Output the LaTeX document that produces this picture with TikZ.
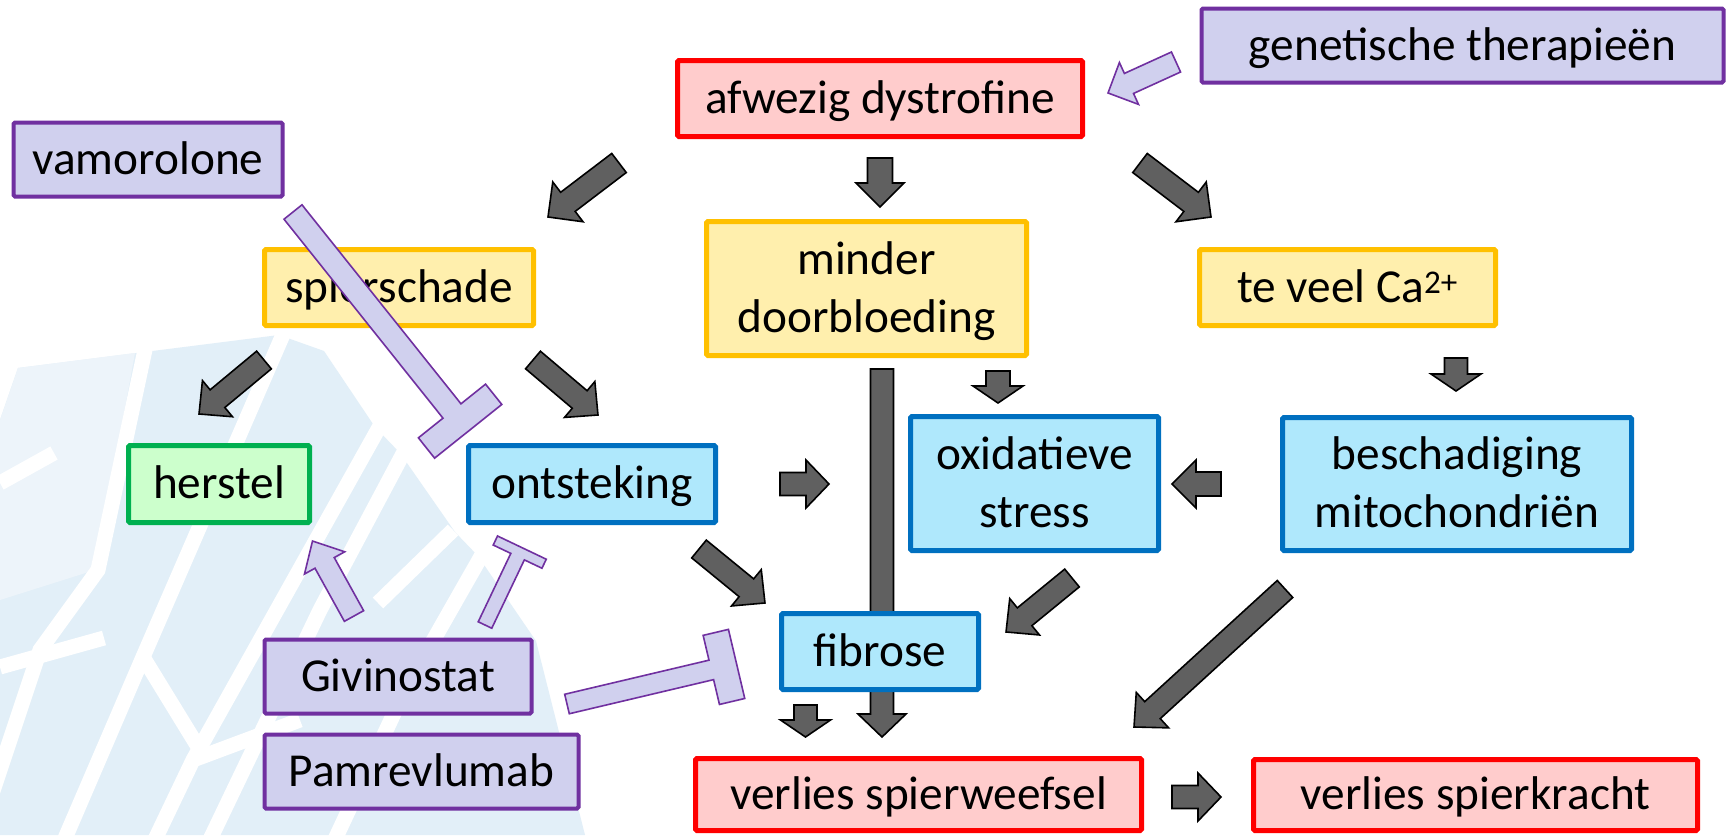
\documentclass[tikz,border=0pt]{standalone}
\usepackage{fontspec}
\setmainfont{Carlito}
\usetikzlibrary{calc}

\definecolor{redline}{HTML}{FF0000}
\definecolor{redfill}{HTML}{FFCCCC}
\definecolor{yelline}{HTML}{FFC000}
\definecolor{yelfill}{HTML}{FFEFAD}
\definecolor{blueline}{HTML}{0070C0}
\definecolor{bluefill}{HTML}{AFE8FC}
\definecolor{grnline}{HTML}{00B050}
\definecolor{grnfill}{HTML}{CCFFCC}
\definecolor{purline}{HTML}{7030A0}
\definecolor{purfill}{HTML}{D0D0EE}
\definecolor{arrowgray}{HTML}{606060}
\definecolor{bgblue}{HTML}{E2EFF8}
\definecolor{bgpale}{HTML}{EDF4FA}

% one text line with fixed height and depth, so that boxes centre alike
\newcommand\lh{\rule[-11.8pt]{0pt}{53.2pt}}

% box given by its outer corners: name, style, x1, y1, x2, y2, text
\newcommand\bx[7]{\node[#2, minimum width={#5-#3-5}, minimum height={#6-#4-5}]
  (#1) at ({(#3+#5)/2},{(#4+#6)/2}) {#7};}

% block arrow: style, tail, tip, shaft width, head width, head length
\newcommand\blk[6]{%
  \path let \p1=($(#3)-(#2)$) in \pgfextra{%
    \pgfmathsetmacro\tmpL{veclen(\x1,\y1)}%
    \pgfmathsetmacro\tmpA{atan2(\y1,\x1)}%
    \xdef\arL{\tmpL}\xdef\arA{\tmpA}};
  \pgfmathsetmacro\arS{#4/2}\pgfmathsetmacro\arH{#5/2}\pgfmathsetmacro\arB{\arL-#6}%
  \draw[#1,shift={(#2)},rotate=\arA] (0pt,-\arS pt) -- (\arB pt,-\arS pt)
    -- (\arB pt,-\arH pt) -- (\arL pt,0pt) -- (\arB pt,\arH pt)
    -- (\arB pt,\arS pt) -- (0pt,\arS pt) -- cycle;}

% inhibition bar: style, tail, shaft end, shaft width, bar length, bar thickness
\newcommand\tbar[6]{%
  \path let \p1=($(#3)-(#2)$) in \pgfextra{%
    \pgfmathsetmacro\tmpL{veclen(\x1,\y1)}%
    \pgfmathsetmacro\tmpA{atan2(\y1,\x1)}%
    \xdef\arL{\tmpL}\xdef\arA{\tmpA}};
  \pgfmathsetmacro\arS{#4/2}\pgfmathsetmacro\arH{#5/2}\pgfmathsetmacro\arB{\arL+#6}%
  \draw[#1,shift={(#2)},rotate=\arA] (0pt,-\arS pt) -- (\arL pt,-\arS pt)
    -- (\arL pt,-\arH pt) -- (\arB pt,-\arH pt) -- (\arB pt,\arH pt)
    -- (\arL pt,\arH pt) -- (\arL pt,\arS pt) -- (0pt,\arS pt) -- cycle;}

\tikzset{
  box/.style={draw, line width=5pt, rounded corners=1.5pt, inner sep=0pt,
    align=center, font=\fontsize{47.3}{57.7}\selectfont},
  redbox/.style={box, draw=redline, fill=redfill},
  yelbox/.style={box, draw=yelline, fill=yelfill},
  bluebox/.style={box, draw=blueline, fill=bluefill},
  grnbox/.style={box, draw=grnline, fill=grnfill},
  purbox/.style={box, line width=4pt, draw=purline, fill=purfill},
  grayarrow/.style={fill=arrowgray, draw=black, line width=1.6pt, line join=miter},
  purshape/.style={fill=purfill, draw=purline, line width=1.6pt, line join=miter},
  bgline/.style={white, line width=15pt}
}

\begin{document}
\begin{tikzpicture}[x=1pt,y=-1pt]
\useasboundingbox (0,0) rectangle (1728,835);
\fill[white] (0,0) rectangle (1728,835);

% pale watermark in the lower left: one field cut by white lines
\begin{scope}
\clip (0,0) rectangle (1728,835);
\fill[bgblue] (0,420) -- (18,368) -- (279,335) -- (324,351) -- (375,427)
  -- (400,453) -- (455,532) -- (478,556) -- (536,641) -- (585,835) -- (0,835) -- cycle;
\fill[bgpale] (0,420) -- (18,368) -- (135,353) -- (95,570) -- (0,600) -- cycle;
\draw[bgline] (146,345) -- (98,570) -- (40,650) -- (-10,800);
\draw[bgline] (285,330) -- (143,657) -- (60,850);
\draw[bgline] (381,424) -- (193,760) -- (150,850);
\draw[bgline] (405,450) -- (320,610) -- (205,850);
\draw[bgline] (483,553) -- (405,690) -- (330,850);
\draw[bgline] (0,667) -- (104,638);
\draw[bgline] (0,483) -- (54,453);
\draw[bgline] (143,657) -- (200,750);
\draw[bgline] (378,603) -- (453,530);
\draw[bgline] (193,760) -- (300,720);
\end{scope}

% arrow end points
\coordinate (a0) at (619,163);  \coordinate (a1) at (548,217);
\coordinate (b0) at (880,158);  \coordinate (b1) at (880,207);
\coordinate (c0) at (1140,163); \coordinate (c1) at (1211,217);
\coordinate (d0) at (264,360);  \coordinate (d1) at (199,414);
\coordinate (e0) at (533,360);  \coordinate (e1) at (598,415);
\coordinate (f0) at (780,484);  \coordinate (f1) at (829,484);
\coordinate (g0) at (882,369);  \coordinate (g1) at (882,737);
\coordinate (h0) at (998,371);  \coordinate (h1) at (998,403);
\coordinate (i0) at (1456,358); \coordinate (i1) at (1456,391);
\coordinate (j0) at (1221,484); \coordinate (j1) at (1172,484);
\coordinate (k0) at (699,549);  \coordinate (k1) at (765,603);
\coordinate (l0) at (1072,578); \coordinate (l1) at (1006,632);
\coordinate (m0) at (1285,589); \coordinate (m1) at (1134,727);
\coordinate (n0) at (805.5,705); \coordinate (n1) at (805.5,737);
\coordinate (o0) at (1172,797); \coordinate (o1) at (1221,797);
\coordinate (q0) at (1176,62);  \coordinate (q1) at (1108,93);
\coordinate (r0) at (354,616);  \coordinate (r1) at (312.5,541);
\coordinate (t0) at (293,212);  \coordinate (t1) at (452,411);
\coordinate (u0) at (485,625);  \coordinate (u1) at (517.6,556.6);
\coordinate (v0) at (567,704);  \coordinate (v1) at (711.3,669.9);

% causal arrows (behind the boxes)
\blk{grayarrow}{a0}{a1}{24}{50}{25}
\blk{grayarrow}{b0}{b1}{25}{48}{24}
\blk{grayarrow}{c0}{c1}{24}{50}{25}
\blk{grayarrow}{d0}{d1}{23}{47}{24}
\blk{grayarrow}{e0}{e1}{23}{47}{24}
\blk{grayarrow}{f0}{f1}{23}{48}{23}
\blk{grayarrow}{g0}{g1}{23}{48}{23}
\blk{grayarrow}{h0}{h1}{24}{50}{17}
\blk{grayarrow}{i0}{i1}{23}{50}{17}
\blk{grayarrow}{j0}{j1}{24}{48}{24}
\blk{grayarrow}{k0}{k1}{23}{47}{24}
\blk{grayarrow}{l0}{l1}{23}{47}{24}
\blk{grayarrow}{m0}{m1}{23}{48}{25}
\blk{grayarrow}{n0}{n1}{23}{50}{17}
\blk{grayarrow}{o0}{o1}{23}{48}{23}

% boxes
\bx{afw}{redbox}{675}{58}{1085}{139}{\lh afwezig dystrofine}
\bx{gen}{purbox}{1199}{6}{1726}{85}{\lh genetische therapieën}
\bx{vam}{purbox}{11}{120}{285}{199}{\lh vamorolone}
\bx{spi}{yelbox}{262}{247}{536}{328}{\lh spierschade}
\bx{min}{yelbox}{704}{219}{1029}{358}{\lh minder\\\lh doorbloeding}
\bx{cal}{yelbox}{1197}{247}{1498}{328}{\lh te veel Ca\textsuperscript{2+}}
\bx{her}{grnbox}{126}{443}{312}{525}{\lh herstel}
\bx{ont}{bluebox}{466}{443}{718}{525}{\lh ontsteking}
\bx{oxi}{bluebox}{908}{414}{1161}{553}{\lh oxidatieve\\\lh stress}
\bx{bes}{bluebox}{1280}{415}{1634}{553}{\lh beschadiging\\\lh mitochondriën}
\bx{fib}{bluebox}{779}{611}{981}{692}{\lh fibrose}
\bx{giv}{purbox}{262}{637}{534}{716}{\lh Givinostat}
\bx{pam}{purbox}{262}{732}{581}{811}{\lh Pamrevlumab}
\bx{vsw}{redbox}{693}{756}{1144}{833}{\lh verlies spierweefsel}
\bx{vsk}{redbox}{1251}{757}{1700}{833}{\lh verlies spierkracht}

% therapies (on top)
\blk{purshape}{q0}{q1}{22}{46}{23}
\blk{purshape}{r0}{r1}{22}{46}{25}
\tbar{purshape}{t0}{t1}{23}{86}{26}
\tbar{purshape}{u0}{u1}{15}{54}{10}
\tbar{purshape}{v0}{v1}{20}{71}{26}
\end{tikzpicture}
\end{document}
